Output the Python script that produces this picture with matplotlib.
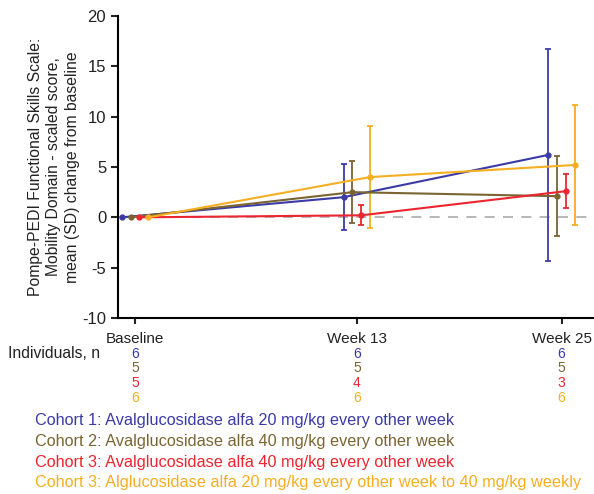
import numpy as np
import matplotlib.pyplot as plt
from matplotlib.transforms import blended_transform_factory

plt.rcParams['font.family'] = ['Liberation Sans', 'DejaVu Sans']
plt.rcParams['axes.unicode_minus'] = False

# data
weeks = [0, 13, 25]
tick_labels = ['Baseline', 'Week 13', 'Week 25']
cohorts = [
    'Cohort 1: Avalglucosidase alfa 20 mg/kg every other week',
    'Cohort 2: Avalglucosidase alfa 40 mg/kg every other week',
    'Cohort 3: Avalglucosidase alfa 40 mg/kg every other week',
    'Cohort 3: Alglucosidase alfa 20 mg/kg every other week to 40 mg/kg weekly',
]
colors = ['#3B3BA6', '#7A6532', '#EC2530', '#F6AE22']
means = [
    [0, 2.0, 6.2],
    [0, 2.5, 2.1],
    [0, 0.2, 2.6],
    [0, 4.0, 5.2],
]
sds = [
    [0, 3.3, 10.5],
    [0, 3.1, 4.0],
    [0, 1.0, 1.7],
    [0, 5.1, 5.95],
]
counts = [
    [6, 6, 6],
    [5, 5, 5],
    [5, 4, 3],
    [6, 6, 6],
]
offsets = [-0.78, -0.26, 0.26, 0.78]

fig = plt.figure(figsize=(5.94, 4.94), dpi=100)
ax = fig.add_axes([118/594, 1-318/494, 1-118/594, 302/494])

ax.axhline(0, color='#AAAAAA', lw=1.2, ls=(0, (6, 5)), zorder=0)

for i in range(4):
    x = np.array(weeks) + offsets[i]
    m = np.array(means[i])
    s = np.array(sds[i])
    ax.plot(x, m, color=colors[i], lw=1.5, marker='o', ms=3.5, zorder=3)
    ax.errorbar(x[1:], m[1:], yerr=s[1:], fmt='none', ecolor=colors[i],
                elinewidth=1.3, capsize=2.5, capthick=1.3, zorder=2)

ax.set_xlim(-1.0, 26.9)
ax.set_ylim(-10, 20)
ax.set_yticks([-10, -5, 0, 5, 10, 15, 20])
ax.set_xticks(weeks)
ax.set_xticklabels(tick_labels, fontsize=11, color='#222222')
ax.tick_params(axis='y', labelsize=12, direction='out', length=5, width=1.5, colors='#222222')
ax.tick_params(axis='x', direction='out', length=4, width=1.5, pad=6, colors='#222222')
ax.spines['top'].set_visible(False)
ax.spines['right'].set_visible(False)
ax.spines['left'].set_linewidth(1.5)
ax.spines['bottom'].set_linewidth(1.5)
ax.set_ylabel('Pompe-PEDI Functional Skills Scale:\nMobility Domain - scaled score,\nmean (SD) change from baseline',
              fontsize=11.3, color='#222222', linespacing=1.3)
ax.yaxis.set_label_coords(-0.08, 0.5)

# numbers at risk
fig.text(8/594, 1-353/494, 'Individuals, n', fontsize=11.3, color='#222222', va='center')
tr = blended_transform_factory(ax.transData, fig.transFigure)
row_y = [354, 368.5, 383, 397.5]
for i in range(4):
    for j, w in enumerate(weeks):
        ax.text(w, 1-row_y[i]/494, str(counts[i][j]), transform=tr, color=colors[i],
                fontsize=10, ha='center', va='center', clip_on=False)

# cohort key
key_y = [420, 441, 462, 482]
for i in range(4):
    fig.text(35/594, 1-key_y[i]/494, cohorts[i], color=colors[i], fontsize=11.7, va='center')

plt.savefig('out.png', dpi=100)
